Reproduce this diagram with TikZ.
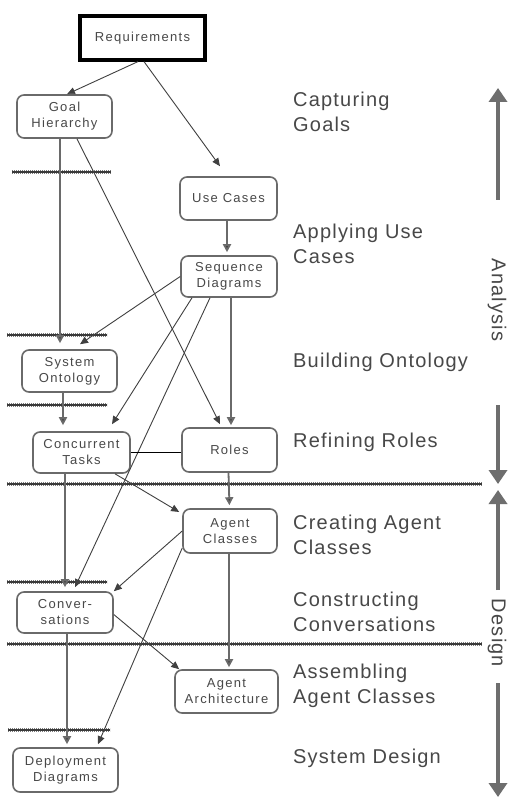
\documentclass[tikz,border=0pt]{standalone}
\usepackage{fontspec}
\setmainfont{Liberation Sans}
\newfontfamily\lblfont[LetterSpace=6]{Liberation Sans}
\newfontfamily\boxfont[LetterSpace=10]{Liberation Sans}
\usetikzlibrary{arrows.meta}
\definecolor{txt}{HTML}{484848}
\definecolor{boxline}{HTML}{6A6A6A}
\definecolor{thick}{HTML}{6A6A6A}
\definecolor{thin}{HTML}{404040}
\definecolor{sep}{HTML}{3A3A3A}
\definecolor{sephatch}{HTML}{7A7A7A}
\definecolor{side}{HTML}{6E6E6E}
\begin{document}
\begin{tikzpicture}[x=1pt,y=-1pt,
  stepbox/.style={draw=boxline,line width=1.6pt,rounded corners=7pt,fill=white,
    align=center,inner sep=0pt,text=txt,font=\boxfont\fontsize{13}{16}\selectfont},
  reqbox/.style={draw=black,line width=3.2pt,fill=white,align=center,inner sep=0pt,
    text=txt,font=\boxfont\fontsize{13}{16}\selectfont},
  heavy/.style={draw=thick,line width=1.8pt,-{Triangle[length=8pt,width=8pt,fill=thin]}},
  light/.style={draw=thin,line width=0.9pt,-{Triangle[length=8pt,width=7pt]}},
  phase/.style={anchor=west,align=left,text=txt,inner sep=0pt,
    font=\lblfont\fontsize{20}{25}\selectfont},
  sidearrow/.style={draw=side,line width=3.5pt,-{Triangle[length=14pt,width=18pt]}},
  sidelabel/.style={text=txt,rotate=-90,inner sep=0pt,font=\lblfont\fontsize{20}{25}\selectfont}
]
\useasboundingbox (0,0) rectangle (508,799);
\fill[white] (0,0) rectangle (508,799);

% separator lines
\foreach \xa/\xb/\yy in {12/111/172, 7/107/335, 7/107/405, 7/482/484, 7/107/582, 7/482/644, 8/110/730}{
  \draw[sephatch,line width=3.2pt,dash pattern=on 1.2pt off 0.8pt] (\xa,\yy) -- (\xb,\yy);
  \draw[sep,line width=1.2pt] (\xa,\yy) -- (\xb,\yy);
}

% nodes
\node[reqbox,minimum width=125pt,minimum height=44pt] (req) at (142.5,38) {Requirements};
\node[stepbox,minimum width=95pt,minimum height=43pt] (gh) at (64.5,116.5) {Goal\\Hierarchy};
\node[stepbox,minimum width=97pt,minimum height=43pt] (uc) at (228.5,198.5) {Use Cases};
\node[stepbox,minimum width=96pt,minimum height=41pt] (sd) at (229,276.5) {Sequence\\Diagrams};
\node[stepbox,minimum width=95pt,minimum height=42pt] (so) at (69.5,371) {System\\Ontology};
\node[stepbox,minimum width=97pt,minimum height=41pt] (ct) at (81.5,452.5) {Concurrent\\Tasks};
\node[stepbox,minimum width=95pt,minimum height=44pt] (ro) at (229.5,450) {Roles};
\node[stepbox,minimum width=94pt,minimum height=44pt] (ac) at (230,531) {Agent\\Classes};
\node[stepbox,minimum width=96pt,minimum height=41pt] (cv) at (65,612.5) {Conver-\\sations};
\node[stepbox,minimum width=103pt,minimum height=43pt] (aa) at (226.5,691.5) {Agent\\Architecture};
\node[stepbox,minimum width=105pt,minimum height=44pt] (dd) at (65.5,770) {Deployment\\Diagrams};

% heavy vertical connectors
\draw[heavy,shorten >=6pt] ([xshift=-4.5pt]gh.south) -- ([xshift=-9.5pt]so.north);
\draw[heavy,shorten >=3pt] ([xshift=-1.5pt]uc.south) -- ([xshift=-2pt]sd.north);
\draw[heavy,shorten >=2pt] ([xshift=2pt]sd.south) -- ([xshift=1.5pt]ro.north);
\draw[heavy,shorten >=6pt] ([xshift=-6.5pt]so.south) -- ([xshift=-18.5pt]ct.north);
\draw[heavy,shorten >=3pt] ([xshift=-1pt]ro.south) -- ([xshift=-0.5pt]ac.north);
\draw[heavy,shorten >=4pt] ([xshift=-16.5pt]ct.south) -- (cv.north);
\draw[heavy,shorten >=2pt] ([xshift=-1pt]ac.south) -- ([xshift=2.5pt]aa.north);
\draw[heavy,shorten >=3pt] ([xshift=2pt]cv.south) -- ([xshift=1.5pt]dd.north);

% light diagonal connectors
\draw[light] ([xshift=-4.5pt]req.south) -- ([xshift=2.5pt]gh.north);
\draw[light] ([xshift=1.5pt]req.south) -- ([xshift=-8.5pt,yshift=10pt]uc.north);
\draw[light] ([xshift=12.5pt]gh.south) -- ([xshift=-9.5pt,yshift=3pt]ro.north);
\draw[light] (sd.west) -- ([xshift=10.5pt,yshift=5pt]so.north);
\draw[light] ([xshift=-37pt]sd.south) -- ([xshift=30.5pt,yshift=7pt]ct.north);
\draw[light] ([xshift=-19pt]sd.south) -- ([xshift=10pt,yshift=4pt]cv.north);
\draw[thick,line width=1.2pt] (ct.east) -- (ct.east -| ro.west);
\draw[light] ([xshift=33.5pt]ct.south) -- ([xshift=-3pt,yshift=19pt]ac.west);
\draw[light] (ac.west) -- (cv.north east);
\draw[light] ([yshift=-17pt]ac.west) -- ([xshift=32.5pt,yshift=3pt]dd.north);
\draw[light] ([yshift=-2pt]cv.east) -- ([xshift=5pt]aa.north west);

% phase labels
\node[phase] (l1) at (293,112) {Capturing\\Goals};
\node[phase] (l2) at (293,244) {Applying Use\\Cases};
\node[phase] (l3) at (293,362) {Building Ontology};
\node[phase] (l4) at (293,442) {Refining Roles};
\node[phase] (l5) at (293,535) {Creating Agent\\Classes};
\node[phase] (l6) at (293,612) {Constructing\\Conversations};
\node[phase] (l7) at (293,686) {Assembling\\Agent Classes};
\node[phase] (l8) at (293,758) {System Design};

% side arrows
\coordinate (a1s) at (498,200);
\coordinate (a1e) at (498,88);
\coordinate (a2s) at (498,405);
\coordinate (a2e) at (498,484);
\coordinate (d1s) at (498,590);
\coordinate (d1e) at (498,490);
\coordinate (d2s) at (498,683);
\coordinate (d2e) at (498,797);
\draw[sidearrow] (a1s) -- (a1e);
\draw[sidearrow] (a2s) -- (a2e);
\draw[sidearrow] (d1s) -- (d1e);
\draw[sidearrow] (d2s) -- (d2e);
\node[sidelabel] (an) at (497,300) {Analysis};
\node[sidelabel] (de) at (497,633) {Design};
\end{tikzpicture}
\end{document}
